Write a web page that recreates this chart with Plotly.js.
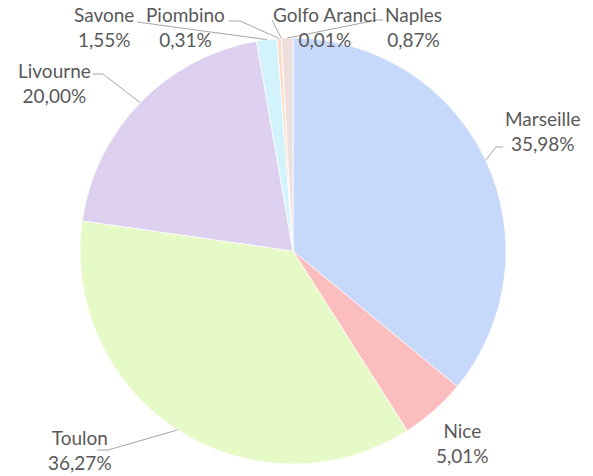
<!DOCTYPE html>
<html>
<head>
<meta charset="utf-8">
<script src="https://cdn.plot.ly/plotly-3.0.1.min.js"></script>
<style>html,body{margin:0;padding:0;background:#fff;}#chart{width:593px;height:476px;}</style>
</head>
<body>
<div id="chart"></div>
<script>
// ---- data ----
var ports = ["Marseille", "Nice", "Toulon", "Livourne", "Savone", "Piombino", "Golfo Aranci", "Naples"];
var shares = [35.98, 5.01, 36.27, 20.00, 1.55, 0.31, 0.01, 0.87];
var colors = ["#c6d9fb", "#fbbdbd", "#e6fac8", "#ddd1ef", "#d2f2fc", "#fcdcc4", "#f6dcc2", "#efdfdc"];

// ---- layout constants (pixels) ----
var W = 593, H = 476;
var CX = 293, CY = 251, R = 213;
// label centre positions
var labelPos = [[542, 130.5], [462, 443], [80, 450], [54, 82.5], [104, 26.5], [185, 26.5], [325, 26.5], [413, 26.5]];
// leader line start points (before reaching slice edge); null = no leader
var leaderStart = [
  [[503, 147], [496, 147]],
  null,
  [[97, 450], [108, 450]],
  [[93, 74], [103, 74]],
  [[137, 22]],
  [[229, 21], [240, 21]],
  [[272, 20]],
  [[383, 20], [377, 20]]
];

function px(x) { return x / W; }
function py(y) { return 1 - y / H; }
function fmt(v) { return v.toFixed(2).replace('.', ',') + '%'; }

var total = shares.reduce(function (a, b) { return a + b; }, 0);
var annotations = [], shapes = [];
var cum = 0;
for (var i = 0; i < ports.length; i++) {
  var mid = (cum + shares[i] / 2) / total;
  cum += shares[i];
  var ang = mid * 2 * Math.PI;
  var ex = CX + R * Math.sin(ang), ey = CY - R * Math.cos(ang);
  annotations.push({
    text: ports[i] + '<br>' + fmt(shares[i]),
    x: px(labelPos[i][0]), y: py(labelPos[i][1]),
    xref: 'paper', yref: 'paper', xanchor: 'center', yanchor: 'middle',
    showarrow: false, align: 'center',
    font: { family: 'Lato, "Open Sans", sans-serif', size: 19, color: '#595959' }
  });
  if (leaderStart[i]) {
    var pts = leaderStart[i].concat([[ex, ey]]);
    var d = pts.map(function (p, k) { return (k ? 'L' : 'M') + px(p[0]) + ',' + py(p[1]); }).join(' ');
    shapes.push({ type: 'path', xref: 'paper', yref: 'paper', path: d,
      line: { color: '#a6a6a6', width: 1 } });
  }
}

var trace = {
  type: 'pie',
  labels: ports,
  values: shares,
  sort: false,
  direction: 'clockwise',
  rotation: 0,
  textinfo: 'none',
  hoverinfo: 'label+percent',
  marker: { colors: colors, line: { color: 'rgba(255,255,255,0.7)', width: 1 } },
  domain: { x: [px(CX - R), px(CX + R)], y: [py(CY + R), py(CY - R)] },
  showlegend: false
};

var layout = {
  width: W, height: H,
  margin: { l: 0, r: 0, t: 0, b: 0 },
  paper_bgcolor: '#ffffff',
  showlegend: false,
  annotations: annotations,
  shapes: shapes
};

Plotly.newPlot('chart', [trace], layout, { displayModeBar: false, staticPlot: true });
</script>
</body>
</html>
